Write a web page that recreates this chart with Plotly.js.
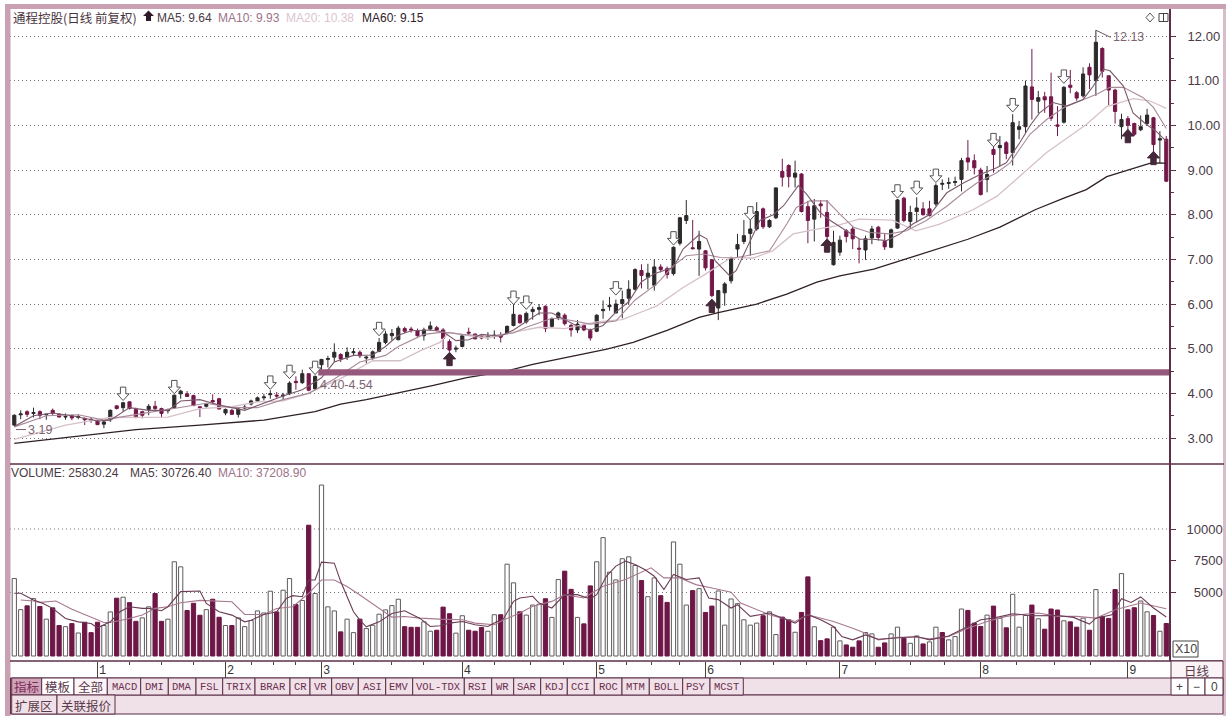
<!DOCTYPE html>
<html><head><meta charset="utf-8">
<script src="https://cdn.plot.ly/plotly-3.0.1.min.js"></script>
<style>html,body{margin:0;padding:0;background:#fff}#c{width:1232px;height:720px}</style>
</head><body><div id="c"></div>
<script>
const opens=[3.29,3.52,3.59,3.55,3.59,3.52,3.62,3.53,3.47,3.50,3.46,3.44,3.42,3.38,3.31,3.41,3.72,3.68,3.81,3.64,3.59,3.64,3.71,3.66,3.61,3.68,3.99,3.99,3.95,3.70,3.71,3.84,3.88,3.56,3.62,3.53,3.67,3.76,3.83,3.90,3.97,3.96,3.94,3.99,4.27,4.24,4.44,4.10,4.64,4.76,4.81,4.87,4.81,4.91,4.92,4.79,4.79,4.94,5.14,5.29,5.20,5.45,5.44,5.40,5.29,5.44,5.47,5.42,5.16,4.99,5.05,5.37,5.33,5.27,5.26,5.28,5.28,5.35,5.52,5.75,5.60,5.83,5.88,5.95,5.50,5.70,5.75,5.52,5.42,5.52,5.41,5.39,5.85,5.94,5.80,6.01,6.13,6.33,6.75,6.60,6.42,6.83,6.79,6.68,7.36,7.87,7.26,7.23,7.19,6.99,5.91,6.25,6.52,7.23,7.40,7.58,7.68,8.13,7.73,7.93,8.97,9.10,8.84,8.91,8.18,7.90,8.24,8.05,6.88,7.16,7.64,7.68,7.25,7.21,7.48,7.72,7.40,7.27,7.70,8.37,7.85,8.07,8.13,8.13,8.24,8.68,8.70,8.72,8.79,9.27,9.21,9.00,8.79,9.46,9.50,9.61,9.39,9.91,9.97,10.86,10.54,10.64,10.64,10.01,10.07,10.90,10.73,10.66,11.30,11.00,11.72,11.11,10.79,9.97,10.15,10.04,9.90,10.04,10.17,9.67,9.69];
const highs=[3.53,3.62,3.62,3.68,3.62,3.54,3.66,3.56,3.55,3.53,3.53,3.46,3.47,3.40,3.39,3.64,3.73,3.81,3.82,3.68,3.61,3.76,3.83,3.68,3.66,3.97,4.08,4.05,3.97,3.71,3.77,3.98,3.90,3.66,3.65,3.68,3.74,3.86,3.93,3.99,4.07,4.03,4.01,4.27,4.38,4.53,4.45,4.40,4.77,4.84,5.12,4.90,5.03,5.01,4.96,4.84,4.96,5.24,5.40,5.44,5.51,5.49,5.49,5.45,5.47,5.61,5.51,5.46,5.21,5.07,5.33,5.47,5.33,5.30,5.37,5.41,5.37,5.52,6.00,5.77,5.83,5.94,6.00,5.97,5.70,5.83,5.79,5.56,5.64,5.56,5.45,5.77,6.08,6.16,6.10,6.30,6.53,6.80,6.89,6.90,7.00,6.89,6.84,7.29,7.95,8.33,7.88,7.64,7.21,7.01,6.31,6.49,7.06,7.57,7.88,8.10,8.28,8.16,7.90,8.61,9.25,9.13,9.21,8.93,8.31,8.35,8.33,8.33,7.64,7.53,7.68,7.75,7.46,7.53,7.75,7.75,7.58,7.69,8.35,8.40,8.20,8.39,8.28,8.31,8.70,8.79,8.83,8.85,9.27,9.67,9.35,9.05,9.09,9.54,9.76,9.65,10.25,10.10,11.00,11.71,10.77,10.75,11.18,10.43,10.88,11.24,10.77,11.30,11.39,12.13,11.75,11.12,10.82,10.26,10.21,10.06,10.22,10.37,10.19,9.87,9.76];
const lows=[3.27,3.42,3.47,3.46,3.42,3.41,3.51,3.46,3.41,3.40,3.42,3.29,3.34,3.29,3.22,3.36,3.64,3.59,3.64,3.44,3.44,3.51,3.59,3.46,3.55,3.66,3.88,3.92,3.71,3.47,3.68,3.77,3.64,3.51,3.52,3.46,3.64,3.73,3.81,3.84,3.88,3.90,3.84,3.96,4.08,4.21,4.05,4.07,4.41,4.58,4.70,4.70,4.75,4.84,4.79,4.67,4.75,4.92,5.10,5.18,5.19,5.35,5.36,5.27,5.18,5.40,5.39,4.99,4.93,4.92,5.03,5.29,5.21,5.21,5.20,5.22,5.14,5.32,5.50,5.56,5.56,5.65,5.75,5.37,5.47,5.64,5.52,5.27,5.35,5.39,5.18,5.37,5.67,5.85,5.79,5.68,5.98,6.30,6.35,6.33,6.30,6.71,6.57,6.64,7.31,7.79,7.22,6.63,6.75,6.15,5.64,5.96,6.46,7.04,7.34,7.08,7.64,7.68,7.70,7.90,8.63,8.61,8.61,8.05,7.36,7.40,7.93,7.46,6.86,7.08,7.38,7.23,6.91,6.99,7.34,7.42,7.21,7.25,7.68,7.83,7.68,7.83,7.98,7.96,8.19,8.55,8.58,8.64,8.52,8.99,8.90,8.43,8.50,8.94,9.09,9.24,9.10,9.69,9.82,10.13,10.27,10.28,10.10,9.76,10.04,10.72,10.55,10.62,10.81,10.66,11.07,10.45,10.04,9.69,9.69,9.76,9.87,9.99,9.16,9.16,8.73];
const closes=[3.51,3.54,3.53,3.57,3.51,3.53,3.55,3.47,3.48,3.45,3.48,3.41,3.40,3.30,3.36,3.62,3.66,3.79,3.66,3.47,3.51,3.71,3.66,3.55,3.63,3.96,4.05,3.93,3.73,3.68,3.75,3.81,3.65,3.64,3.53,3.65,3.69,3.83,3.90,3.92,3.99,3.94,3.96,4.23,4.24,4.44,4.07,4.38,4.76,4.78,4.92,4.77,4.92,4.93,4.84,4.81,4.93,5.14,5.33,5.34,5.46,5.39,5.42,5.29,5.42,5.51,5.42,5.23,4.97,5.01,5.29,5.35,5.22,5.24,5.27,5.30,5.26,5.50,5.77,5.58,5.79,5.88,5.92,5.45,5.67,5.80,5.56,5.42,5.55,5.42,5.24,5.75,5.88,5.97,6.00,6.10,6.33,6.77,6.64,6.69,6.83,6.77,6.66,7.27,7.93,7.98,7.24,7.40,6.81,6.19,6.30,6.45,7.03,7.33,7.53,7.68,8.07,7.73,7.87,8.60,8.84,8.85,8.93,8.07,7.87,8.20,8.20,7.51,7.38,7.43,7.51,7.46,7.23,7.46,7.68,7.49,7.28,7.66,8.33,7.87,8.05,8.15,8.00,7.98,8.65,8.70,8.72,8.74,9.21,9.18,9.05,8.45,8.90,9.35,9.55,9.37,10.06,9.97,10.88,10.58,10.62,10.57,10.16,9.98,10.85,10.85,10.61,11.15,11.13,11.86,11.21,10.79,10.31,10.13,10.00,9.80,9.97,10.23,9.57,9.70,8.75];
const volumes=[6100,3650,3950,4520,3900,2900,3790,2400,2310,2550,1810,2660,1840,2660,2400,3470,4550,4630,4200,2730,3000,3870,4920,2730,2900,7420,7020,3580,4150,3210,3650,4470,3050,2400,2400,3000,2310,2790,3550,3390,5100,3470,5180,6100,4050,4370,10300,4920,13460,3870,3550,1900,2900,1840,2900,2160,2420,3290,3630,3970,4470,2310,2260,2260,2690,1950,2030,3850,3330,1800,3170,2030,1950,2240,1950,3250,3250,7230,5760,3480,3220,4010,4070,4510,3040,6020,6680,5250,3040,2530,5520,7420,9320,6600,5990,7660,7810,7130,5940,4670,6150,4750,4220,8980,7230,4010,5150,5300,3430,3930,5120,2430,4490,4120,2850,2430,2590,3170,3480,1690,3060,2850,1870,3430,6230,2300,1210,1350,2270,1190,870,690,1190,1850,1740,690,1030,1740,2270,1400,1000,1580,950,1110,2270,1850,1270,1530,3700,3590,2590,2320,3220,3930,2960,2220,4860,2270,3190,4010,2930,2110,3700,3620,2770,2690,2270,2980,2030,5230,3120,2960,5230,6490,3640,3800,4330,3480,3190,1950,2560];
const volumeDown=[2,4,6,7,9,11,12,13,16,18,19,22,23,27,28,29,31,32,34,41,44,46,51,54,61,62,63,66,67,68,71,72,73,76,79,83,86,87,89,90,98,101,102,106,108,109,117,120,121,123,124,126,127,130,131,132,135,136,139,142,145,149,150,151,153,155,159,161,162,163,165,166,168,170,171,172,174,175,178,180];

const ma5Idx=[0,3,6,9,13,15,18,21,24,26,29,32,36,39,42,45,48,50,53,56,58,60,62,65,67,69,71,73,76,78,80,82,84,86,88,90,92,94,96,98,100,103,104.5,107,108.2,109.5,111.8,112.8,115,116.5,118.6,120.2,122.5,123.8,125.9,127.5,130,132.1,134.2,136.3,138.4,140.4,143.1,145.7,148.3,150.9,153.5,155,157.1,158.7,160.2,162.3,164.4,167,168.6,170.2,171.2,173.3,174.8,176.9,178.4,180];
const ma5Val=[3.26,3.50,3.56,3.50,3.38,3.40,3.68,3.62,3.62,3.83,3.86,3.74,3.62,3.78,3.94,4.08,4.35,4.70,4.85,4.86,5.05,5.30,5.40,5.42,5.38,5.18,5.20,5.32,5.28,5.42,5.62,5.80,5.80,5.65,5.50,5.42,5.52,5.82,6.05,6.50,6.68,6.82,7.23,7.55,7.46,6.97,6.63,6.75,7.42,7.87,8.00,8.20,8.65,8.46,8.05,7.87,7.64,7.45,7.45,7.42,7.57,7.79,8.01,8.49,8.71,8.90,9.05,9.16,9.61,9.99,10.28,10.51,10.43,10.58,10.88,11.26,11.22,10.88,10.28,10.02,9.87,9.64];
const ma10Idx=[0,5,10,14,17,22,26,30,34,38,42,46,50,54,58,60,64,67,70,74,78,80,84,86,90,94,97,100.4,103,105,107.7,110.3,112.4,114.4,118,120.7,122.2,124.3,127,129,131.1,133.7,136.8,139.4,142.5,145.7,148.3,150.4,153.5,155.6,158.7,161.3,164,166,169.2,171.2,173.3,176.4,178,180];
const ma10Val=[3.25,3.50,3.52,3.40,3.48,3.60,3.68,3.78,3.68,3.68,3.86,4.00,4.32,4.70,4.85,5.05,5.32,5.37,5.32,5.28,5.35,5.48,5.68,5.66,5.55,5.62,6.09,6.45,6.86,7.08,7.12,7.04,7.03,7.08,7.19,7.79,8.16,8.31,8.31,8.01,7.72,7.60,7.57,7.64,7.87,8.19,8.49,8.71,8.94,9.16,9.80,10.13,10.40,10.52,10.70,10.85,10.85,10.62,10.40,9.93];
const ma20Idx=[0,8,15,24,29,34,38,42,45.7,51,56,60.3,63.4,66.5,68,70.5,74,78,82,86,91,95,97.8,100.4,104.5,108,112,115.5,118.5,121.7,124.8,128.4,132,137.2,140.9,144.6,149.8,153.5,157.1,161.3,167.5,170.7,174.8,177.4,180];
const ma20Val=[2.97,3.29,3.46,3.47,3.66,3.70,3.81,3.83,3.99,4.33,4.73,4.73,4.95,5.14,5.37,5.30,5.24,5.37,5.48,5.45,5.60,5.65,5.81,5.96,6.37,6.67,7.04,7.03,7.19,7.57,7.66,7.75,7.90,7.88,7.64,7.79,8.11,8.41,8.86,9.39,10.02,10.42,10.60,10.55,10.38];
const ma60Idx=[0,8,19,29,39,47,51,55,60,65.5,70.7,76.9,81,86.3,92.6,96.7,102,107,110,116,120.7,125.4,129,134.3,139.4,144.6,149,154,159.5,164,167.5,170.7,174.3,177.4,179,180];
const ma60Val=[2.88,3.01,3.19,3.29,3.40,3.59,3.76,3.86,4.01,4.18,4.35,4.50,4.65,4.80,4.99,5.14,5.41,5.70,5.81,6.00,6.22,6.49,6.63,6.78,7.01,7.25,7.45,7.72,8.11,8.37,8.56,8.85,9.01,9.15,9.16,9.15];
const volMa5Idx=[0,1,3,4.5,6,8,10,12,13,15,16.5,18,20,21,23,24,26,29,30,32,34,36,37,39,41,42.5,43.5,45,46,47,48,50,51,53,54,55,57,59,61,63.4,65,66.5,68,70,72,74,75,76.5,78,79,81,82,84,86,88,90,91,92.5,94,95.5,97,98.5,100,101.5,103,105,107,108.5,110,112,113,115,118,120,122,124,126,128,129.3,131,133,135,138,141,143,146,149,151,153,156,159,163,165.5,168,169,171.5,173,174.5,176,178,180];
const volMa5Val=[4940,4940,4410,4140,3750,2960,2690,2560,2220,2690,3480,3880,3750,3750,3560,3880,5070,5120,4140,3480,3220,2690,2820,3270,3480,4540,4750,4670,5990,5990,7390,7310,5860,3480,2820,2300,2690,3350,3560,2960,2320,2380,2590,2720,2460,2320,2590,2980,4300,4570,4700,4170,3780,4830,4830,4490,4830,6280,7080,7470,7210,6810,6280,5230,6420,6020,6150,4570,4440,3780,4040,3120,3380,2980,2590,3250,2850,2320,1530,1270,1660,1320,1400,1530,1270,1580,2320,2850,2980,3330,3170,3190,3040,2510,2980,3250,4510,4220,4650,3780,3073];
const volMa10Idx=[1,3,4,6.5,9,11.5,14,15,17.5,20,22,24,26,29,32,34,36,39,41,43.5,46,48,50,52,54,57,59,61,63.4,66.5,70,72,75,76.5,79,81,84,86,89,92,95.5,99.5,101.5,104,106.5,109,112,113.5,116,118,120,122,124,127,128,131,133,135,138,141,143,146,149,152,155,157,160,163,166,169,172,176,180];
const volMa10Val=[4410,4330,4220,4330,3690,3170,2640,2640,2900,3220,3750,3880,4190,4380,4330,4270,3270,3270,3740,3880,4930,5990,5990,5470,4800,3750,3060,3110,2980,2900,2850,2590,2460,2850,3380,3910,4300,4830,4570,5490,6020,6940,6150,6150,5620,5360,5020,4170,3640,3250,2980,2720,3250,2850,2720,2190,1800,1270,1480,1480,1350,1530,2190,2720,3120,3250,3380,3120,3120,2980,3640,4170,3721];

const monthIdx=[13,33,48,70,91,108,129,151,174];
const monthLabels=['1','2','3','4','5','6','7','8','9'];
const weekIdx=[18,23,28,37,40.5,44,53,59,64,75,80.6,85.8,95.7,99.5,103.9,113.4,118.6,123.8,134.5,140,145.4,156.6,162.6,168.2];
const priceTicks=[3,4,5,6,7,8,9,10,11,12];
const volumeTicks=[5000,7500,10000];
const volumeTickText=['\u00a0\u00a05000','\u00a0\u00a07500','10000'];
const arrowDownIdx=[17,25,40,43,47,57,78,80,94,103,115,138,141,144,153,156,164];
const arrowDownPrice=[3.84,3.99,4.09,4.33,4.42,5.29,5.99,5.88,6.20,7.32,7.88,8.37,8.45,8.72,9.52,10.30,10.94];
const arrowUpIdx=[68,109,127,174,178];
const arrowUpPrice=[4.92,6.11,7.46,9.91,9.42];
const bandLow=4.40, bandHigh=4.54, bandStart=47.5;
const tabNames=['MACD','DMI','DMA','FSL','TRIX','BRAR','CR','VR','OBV','ASI','EMV','VOL-TDX','RSI','WR','SAR','KDJ','CCI','ROC','MTM','BOLL','PSY','MCST'];
const tabEdges=[107.3,140.7,168.3,196,222.7,255,290,310,331.7,358.3,385.7,412.7,464.3,491.7,513.7,540.7,567.3,594.3,622,649.3,682.7,710,743.3];

const L=10,R=1170,T=10,B=661;
const px=x=>(x-L)/(R-L), py=y=>(B-y)/(B-T);
const idx=opens.map((_,i)=>i);
const CRIM='#74184a', DARK='#2d2a2c', EDGE='#5a2f47', PINK='#c9a1b3', TAB='#f0e0e7';
const isDown=new Set(volumeDown);

const traces=[
 {type:'candlestick',x:idx,open:opens,high:highs,low:lows,close:closes,xaxis:'x',yaxis:'y',hoverinfo:'skip',whiskerwidth:0,
  increasing:{line:{color:DARK,width:1},fillcolor:DARK},decreasing:{line:{color:CRIM,width:1},fillcolor:CRIM}},
 {type:'scatter',mode:'lines',x:ma60Idx,y:ma60Val,yaxis:'y',line:{color:'#2f2028',width:1.3},hoverinfo:'skip'},
 {type:'scatter',mode:'lines',x:ma20Idx,y:ma20Val,yaxis:'y',line:{color:'#d6c0c8',width:1.3},hoverinfo:'skip'},
 {type:'scatter',mode:'lines',x:ma10Idx,y:ma10Val,yaxis:'y',line:{color:'#a98a9a',width:1.1},hoverinfo:'skip'},
 {type:'scatter',mode:'lines',x:ma5Idx,y:ma5Val,yaxis:'y',line:{color:'#7c5a6c',width:1.1},hoverinfo:'skip'},
 {type:'bar',x:idx,y:volumes,yaxis:'y2',width:0.66,hoverinfo:'skip',
  marker:{color:idx.map(i=>isDown.has(i)?'#6e1646':'#ffffff'),line:{color:idx.map(i=>isDown.has(i)?'#6e1646':'#5e5a5c'),width:1}}},
 {type:'scatter',mode:'lines',x:volMa10Idx,y:volMa10Val,yaxis:'y2',line:{color:'#a8788f',width:1.1},hoverinfo:'skip'},
 {type:'scatter',mode:'lines',x:volMa5Idx,y:volMa5Val,yaxis:'y2',line:{color:'#6b3b55',width:1.1},hoverinfo:'skip'}
];

function rect(x0,y0,x1,y1,fill,line,w){return {type:'rect',xref:'paper',yref:'paper',x0:px(x0),x1:px(x1),y0:py(y0),y1:py(y1),fillcolor:fill||'rgba(0,0,0,0)',line:{color:line||'rgba(0,0,0,0)',width:w===undefined?(line?1:0):w}};}
function seg(x0,y0,x1,y1,c,w){return {type:'line',xref:'paper',yref:'paper',x0:px(x0),x1:px(x1),y0:py(y0),y1:py(y1),line:{color:c,width:w||1}};}
function arrowPath(i,p,dir){
  const hw=0.95,sw=0.42,hh=0.15,tot=0.3, s=dir>0?-1:1;
  const pts=[[i,p],[i+hw,p+s*hh],[i+sw,p+s*hh],[i+sw,p+s*tot],[i-sw,p+s*tot],[i-sw,p+s*hh],[i-hw,p+s*hh]];
  return 'M'+pts.map(a=>a[0]+','+a[1]).join('L')+'Z';
}
const shapes=[];
shapes.push({type:'rect',xref:'x',yref:'y',x0:bandStart,x1:180.58,y0:bandLow,y1:bandHigh,fillcolor:'#96597e',line:{width:0},layer:'above'});
arrowDownIdx.forEach((a,k)=>shapes.push({type:'path',xref:'x',yref:'y',path:arrowPath(a,arrowDownPrice[k],-1),fillcolor:'#ffffff',line:{color:'#555054',width:1}}));
arrowUpIdx.forEach((a,k)=>shapes.push({type:'path',xref:'x',yref:'y',path:arrowPath(a,arrowUpPrice[k],1),fillcolor:'#45283a',line:{color:'#45283a',width:1}}));
shapes.push({type:'line',xref:'x',yref:'y',x0:169,x1:171.3,y0:12.13,y1:11.97,line:{color:'#6d5563',width:1}});
shapes.push({type:'line',xref:'paper',yref:'y',x0:px(16),x1:px(26),y0:3.19,y1:3.19,line:{color:'#7a6270',width:1}});

shapes.push(rect(5,4,10.5,716,PINK));
shapes.push(rect(5,4,1226,9,PINK));
shapes.push(rect(1223,9,1226,716,'#d8bcc8'));
shapes.push(seg(10,464,1224,464,EDGE,1.6));
shapes.push(seg(1170,9,1170,661,EDGE,2));
shapes.push(seg(10,661,1223,661,EDGE,1.4));
shapes.push({type:'path',xref:'paper',yref:'paper',path:'M'+[[148.5,10.5],[154,16],[151,16],[151,21],[146,21],[146,16],[143,16]].map(a=>px(a[0])+','+py(a[1])).join('L')+'Z',fillcolor:'#2d1a26',line:{width:0}});
shapes.push({type:'path',xref:'paper',yref:'paper',path:'M'+[[1150,13],[1154,17.5],[1150,22],[1146,17.5]].map(a=>px(a[0])+','+py(a[1])).join('L')+'Z',fillcolor:'#fff',line:{color:'#555',width:1}});
shapes.push(rect(1159,13.5,1168,21.5,'#fff','#444'));
shapes.push(seg(1163.5,13.5,1163.5,21.5,'#444',1));
shapes.push(rect(1173,641,1198,657,'#fff','#444'));
shapes.push(rect(10.5,678,1223,695,TAB,EDGE));
shapes.push(rect(10.5,695,1223,714,TAB,EDGE));
shapes.push(rect(11.7,678,41.7,695,'#cfa3b8',EDGE));
shapes.push(rect(41.7,678,74,695,'#ffffff',EDGE));
shapes.push(rect(74,678,107.3,695,'#fbf5f7',EDGE));
for(let k=0;k<tabNames.length;k++) shapes.push(rect(tabEdges[k],678,tabEdges[k+1],695,TAB,EDGE));
shapes.push(rect(11.7,695,57,714,TAB,EDGE));
shapes.push(rect(57,695,115,714,TAB,EDGE));
shapes.push(rect(1171,661,1223,678,'#fbf3f6',EDGE));
shapes.push(rect(1171,678,1188,695,'#fff',EDGE));
shapes.push(rect(1188,678,1205,695,'#fff',EDGE));
shapes.push(rect(1205,678,1223,695,'#fff',EDGE));

const SANS='Liberation Sans, Arial, sans-serif', CJK='Noto Sans CJK SC, sans-serif', MONO='Liberation Mono, monospace';
function lab(x,y,text,color,size,family,anchor){return {xref:'paper',yref:'paper',x:px(x),y:py(y),text:text,showarrow:false,xanchor:anchor||'left',yanchor:'middle',align:'left',font:{color:color,size:size||12.5,family:family||SANS}};}
const annotations=[
 lab(10.5,17.5,'通程控股(日线 前复权)','#4a3440',12.5,CJK),
 lab(155,17.5,'MA5: 9.64','#4a3a44',12),
 lab(216,17.5,'MA10: 9.93','#9b7389',12),
 lab(284,17.5,'MA20: 10.38','#dcc4cf',12),
 lab(360,17.5,'MA60: 9.15','#2f222a',12),
 lab(9,473,'VOLUME: 25830.24','#4a3a44',12),
 lab(128,473,'MA5: 30726.40','#4a3a44',12),
 lab(216,473,'MA10: 37208.90','#9b7389',12),
 {xref:'x',yref:'y',x:47.5,y:4.18,text:'4.40-4.54',showarrow:false,xanchor:'left',yanchor:'middle',font:{color:'#7d6472',size:12.5,family:SANS}},
 {xref:'paper',yref:'y',x:px(26),y:3.19,text:'3.19',showarrow:false,xanchor:'left',yanchor:'middle',font:{color:'#7d6472',size:12.5,family:SANS}},
 {xref:'x',yref:'y',x:171.3,y:11.98,text:'12.13',showarrow:false,xanchor:'left',yanchor:'middle',font:{color:'#7d6472',size:12.5,family:SANS}},
 lab(1185.5,649,'X10','#444',12.5,SANS,'center'),
 lab(1197,670,'日线','#5a3a4c',12.5,CJK,'center'),
 lab(1179.5,687,'+','#444',12,SANS,'center'),
 lab(1196.5,687,'−','#444',12,SANS,'center'),
 lab(1214,687,'0','#444',12,SANS,'center'),
 lab(26.7,687,'指标','#7a2a55',12.5,CJK,'center'),
 lab(57.8,687,'模板','#5a3a4c',12.5,CJK,'center'),
 lab(90.6,687,'全部','#5a3a4c',12.5,CJK,'center'),
 lab(34.3,705,'扩展区','#5a3a4c',12.5,CJK,'center'),
 lab(86,705,'关联报价','#5a3a4c',12.5,CJK,'center')
];
tabNames.forEach((t,k)=>annotations.push(lab((tabEdges[k]+tabEdges[k+1])/2,687,t,'#6b2f50',10.5,MONO,'center')));

const layout={
 width:1232,height:720,paper_bgcolor:'#ffffff',plot_bgcolor:'#ffffff',showlegend:false,dragmode:false,
 margin:{l:L,r:1232-R,t:T,b:720-B,pad:0},
 xaxis:{domain:[0,1],range:[-0.672,180.58],anchor:'y2',fixedrange:true,showgrid:false,zeroline:false,showline:false,rangeslider:{visible:false},
   tickmode:'array',tickvals:monthIdx,ticktext:monthLabels,ticks:'outside',ticklen:16,tickcolor:'#444',tickwidth:1,
   tickfont:{family:MONO,size:12,color:'#333'},ticklabelposition:'outside',ticklabelstandoff:-18,ticklabelshift:5,
   minor:{tickmode:'array',tickvals:weekIdx,ticks:'outside',ticklen:3,tickcolor:'#444',tickwidth:1,showgrid:false}},
 yaxis:{domain:[(B-463)/(B-T),1],range:[12-(463-36)/44.67,12+(36-10)/44.67],side:'right',fixedrange:true,zeroline:false,showline:false,
   tickmode:'array',tickvals:priceTicks,ticktext:priceTicks.map(v=>v.toFixed(2)),ticks:'outside',ticklen:5,tickcolor:EDGE,tickwidth:1,
   showgrid:true,gridcolor:'#77707a',griddash:'1px,3px',gridwidth:1,tickfont:{family:SANS,size:13,color:'#4a3a44'},ticklabelstandoff:9,
   minor:{tickvals:priceTicks.map(v=>v+0.5).filter(v=>v<12.5),ticks:'outside',ticklen:3,tickcolor:EDGE,showgrid:false}},
 yaxis2:{domain:[0,(B-465)/(B-T)],range:[-394,15040],side:'right',anchor:'x',fixedrange:true,zeroline:false,showline:false,
   tickmode:'array',tickvals:volumeTicks,ticktext:volumeTickText,ticks:'outside',ticklen:5,tickcolor:EDGE,tickwidth:1,
   showgrid:false,tickfont:{family:SANS,size:13,color:'#4a3a44'},ticklabelstandoff:8},
 shapes:shapes,annotations:annotations
};
[5000,10000].forEach(v=>layout.shapes.unshift({type:'line',xref:'paper',yref:'y2',x0:0,x1:1,y0:v,y1:v,layer:'below',line:{color:'#77707a',width:1,dash:'1px,3px'}}));
Plotly.newPlot('c',traces,layout,{displayModeBar:false,staticPlot:true});
</script></body></html>
